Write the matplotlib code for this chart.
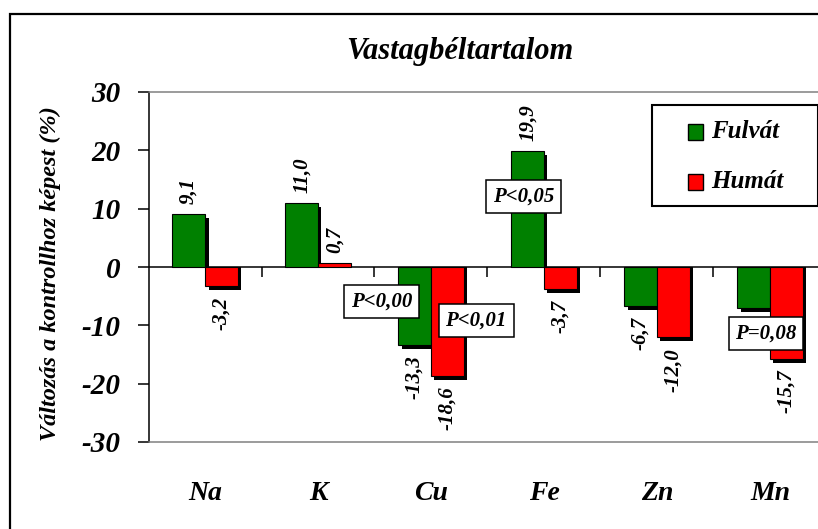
import matplotlib
matplotlib.use("Agg")
import matplotlib.pyplot as plt
from matplotlib.patches import Rectangle
from matplotlib.transforms import blended_transform_factory
import numpy as np

# ---------------- data ----------------
categories = ["Na", "K", "Cu", "Fe", "Zn", "Mn"]
fulvat = [9.1, 11.0, -13.3, 19.9, -6.7, -7.0]
humat = [-3.2, 0.7, -18.6, -3.7, -12.0, -15.7]
fulvat_labels = ["9,1", "11,0", "-13,3", "19,9", "-6,7", ""]
humat_labels = ["-3,2", "0,7", "-18,6", "-3,7", "-12,0", "-15,7"]
series_names = ["Fulvát", "Humát"]
yticks = [-30, -20, -10, 0, 10, 20, 30]
title = "Vastagbéltartalom"
ylabel = "Változás a kontrollhoz képest (%)"
p_texts = ["P<0,00", "P<0,01", "P<0,05", "P=0,08"]
p_x = [1.56, 2.40, 2.82, 4.965]
p_y = [-5.97, -9.14, 12.13, -11.37]

# ---------------- style ----------------
plt.rcParams["font.family"] = ["Liberation Serif", "DejaVu Serif"]
plt.rcParams["font.weight"] = "bold"
plt.rcParams["font.style"] = "italic"
plt.rcParams["axes.unicode_minus"] = False

W, H = 818, 529
fig = plt.figure(figsize=(W / 100, H / 100), dpi=100)

def fx(px):
    return px / W

def fy(py):
    return 1 - py / H

ax = fig.add_axes([fx(148.5), fy(442), 678 / W, 350 / H])
ax.set_xlim(-0.5, len(categories) - 0.5)
ax.set_ylim(-30, 30)

green = "#008000"
red = "#FF0000"
w = 0.29
x = np.arange(len(categories))
# shadow offsets (data units: ~3.5 px right, ~4 px down)
sdx = 3.5 / 113
sdy = 4.0 / (350 / 60)

def shadow_bars(xs, vals, z):
    vals = np.asarray(vals)
    bottoms = np.where(vals >= 0, 0.0, vals - sdy)
    tops = np.where(vals >= 0, np.maximum(vals - sdy, 0.0), 0.0)
    ax.bar(xs + sdx, tops - bottoms, w, bottom=bottoms, color="black", lw=0, zorder=z)

ax.axhline(0, color="black", lw=1.1, zorder=1)
shadow_bars(x - w / 2, fulvat, 1.5)
ax.bar(x - w / 2, fulvat, w, color=green, edgecolor="black", lw=0.8, zorder=2)
shadow_bars(x + w / 2, humat, 2.5)
ax.bar(x + w / 2, humat, w, color=red, edgecolor="black", lw=0.8, zorder=3)

# category boundary ticks on the zero line
ax.vlines(x[:-1] + 0.5, -1.75, 0, color="black", lw=1.1, zorder=1)

# value labels
def add_labels(xs, vals, labs):
    for xi, v, t in zip(xs, vals, labs):
        if not t:
            continue
        if v >= 0:
            ax.annotate(t, (xi, v), xytext=(0, 7), textcoords="offset points",
                        rotation=90, ha="center", va="bottom", fontsize=15, zorder=5)
        else:
            ax.annotate(t, (xi, v), xytext=(0, -8), textcoords="offset points",
                        rotation=90, ha="center", va="top", fontsize=15, zorder=5)

add_labels(x - w / 2, fulvat, fulvat_labels)
add_labels(x + w / 2, humat, humat_labels)

# P value boxes
for t, px_, py_ in zip(p_texts, p_x, p_y):
    ax.text(px_, py_, t, ha="center", va="center", fontsize=15, zorder=6,
            bbox=dict(boxstyle="square,pad=0.32", fc="white", ec="black", lw=1.1))

# spines / ticks
ax.spines["left"].set_color("black")
ax.spines["left"].set_linewidth(1.1)
for s in ["top", "bottom", "right"]:
    ax.spines[s].set_color("#808080")
    ax.spines[s].set_linewidth(1.1)
ax.set_yticks(yticks)
ax.set_yticklabels([str(v) for v in yticks])
ax.tick_params(axis="y", direction="out", length=8, width=1.1, pad=12, labelsize=21)
ax.set_xticks([])

trans = blended_transform_factory(ax.transData, ax.transAxes)
for xi, c in zip(x, categories):
    ax.text(xi, -0.146, c, transform=trans, ha="center", va="center", fontsize=20)

# title and y label
fig.text(fx(460), fy(51), title, ha="center", va="center", fontsize=22)
fig.text(fx(50), fy(274), ylabel, ha="center", va="center", rotation=90, fontsize=17.5)

# legend (manual)
fig.patches.append(Rectangle((fx(652), fy(206)), (818 - 652) / W, 101 / H,
                             transform=fig.transFigure, fc="white", ec="black", lw=1.5, zorder=10))
for i, (name, col) in enumerate(zip(series_names, [green, red])):
    cy = 132 + 50 * i
    fig.patches.append(Rectangle((fx(688), fy(cy + 7.5)), 15 / W, 15 / H,
                                 transform=fig.transFigure, fc=col, ec="black", lw=1, zorder=11))
    fig.text(fx(711), fy(cy), name, ha="left", va="center", fontsize=18, zorder=12)

# outer frame
fig.patches.append(Rectangle((fx(10), -0.05), 1.0, fy(14) + 0.05,
                             transform=fig.transFigure, fill=False, ec="black", lw=1.6, zorder=20))

fig.savefig("out.png", dpi=100)
